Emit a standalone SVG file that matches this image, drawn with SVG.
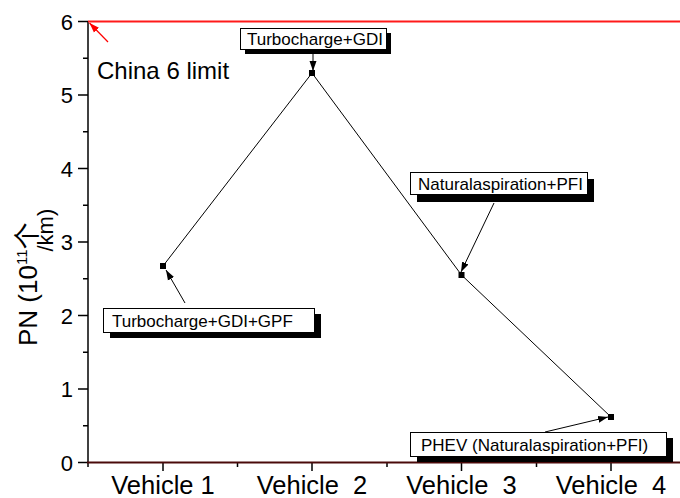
<svg xmlns="http://www.w3.org/2000/svg" width="680" height="498" viewBox="0 0 680 498">
<defs>
<marker id="ah" viewBox="0 0 10 10" refX="10" refY="5" markerWidth="10" markerHeight="10" markerUnits="userSpaceOnUse" orient="auto"><path d="M0,1.5 L10,5 L0,8.5 Z" fill="#000"/></marker>
<marker id="ahr" viewBox="0 0 10 10" refX="10" refY="5" markerWidth="10" markerHeight="10" markerUnits="userSpaceOnUse" orient="auto"><path d="M0,1.5 L10,5 L0,8.5 Z" fill="#ff0000"/></marker>
</defs>
<style>
text{font-family:"Liberation Sans",Arial,sans-serif;fill:#000}
.tick{font-size:22px;text-anchor:end}
.xl{font-size:25.5px;text-anchor:middle}
.bl{font-size:17px}
.box{fill:#fff;stroke:#000;stroke-width:1}
.sh{fill:#000}
.ax{stroke:#000;stroke-width:1.5;fill:none}
.ann{stroke:#000;stroke-width:1;fill:none;marker-end:url(#ah)}
.pt{fill:#000}
</style>
<rect width="680" height="498" fill="#fff"/>
<g id="axes">
<line class="ax" x1="88" y1="21" x2="88" y2="463"/>
<path class="ax" d="M78,21.5H88M78,95H88M78,168.5H88M78,242H88M78,315.5H88M78,389H88M78,462.5H88"/>
<path class="ax" d="M83,58.25H88M83,131.75H88M83,205.25H88M83,278.75H88M83,352.25H88M83,425.75H88"/>
<path class="ax" d="M88,462.5V467M237.5,462.5V467M387,462.5V467M536.5,462.5V467M163,462.5V471M312,462.5V471M461.5,462.5V471M611,462.5V471"/>
<line x1="87" y1="462.5" x2="680" y2="462.5" stroke="#4a0a0a" stroke-width="2"/>
<text class="tick" x="73" y="29.5">6</text>
<text class="tick" x="73" y="103">5</text>
<text class="tick" x="73" y="176.5">4</text>
<text class="tick" x="73" y="250">3</text>
<text class="tick" x="73" y="323.5">2</text>
<text class="tick" x="73" y="397">1</text>
<text class="tick" x="73" y="470.5">0</text>
<text class="xl" x="163" y="494">Vehicle 1</text>
<text class="xl" x="312" y="494" xml:space="preserve">Vehicle  2</text>
<text class="xl" x="461.5" y="494" xml:space="preserve">Vehicle  3</text>
<text class="xl" x="611" y="494" xml:space="preserve">Vehicle  4</text>
<text transform="translate(37,346) rotate(-90)" style="font-size:26px"><tspan>PN (10</tspan><tspan style="font-size:15px" dy="-10">11</tspan><tspan style="font-family:'Noto Sans CJK SC',sans-serif;font-size:27px" dy="10">个</tspan><tspan style="font-size:22px" dx="-29" dy="16">/km)</tspan></text>
</g>
<g id="limit">
<line x1="88" y1="21.5" x2="680" y2="21.5" stroke="#ff1a1a" stroke-width="2"/>
<line x1="108" y1="42" x2="89.5" y2="23" stroke="#ff0000" stroke-width="1.2" marker-end="url(#ahr)"/>
<text x="97" y="79" style="font-size:24px">China 6 limit</text>
</g>
<g id="series">
<polyline points="163,266 312,73 461.5,275 611,417" fill="none" stroke="#000" stroke-width="1"/>
<rect class="pt" x="160" y="263" width="6" height="6"/>
<rect class="pt" x="309" y="70" width="6" height="6"/>
<rect class="pt" x="458.5" y="272" width="6" height="6"/>
<rect class="pt" x="608" y="414" width="6" height="6"/>
</g>
<g id="connectors">
<line class="ann" x1="313" y1="49" x2="313" y2="71"/>
<line class="ann" x1="185" y1="303" x2="166" y2="270"/>
<line class="ann" x1="494" y1="203" x2="461" y2="272"/>
<line class="ann" x1="545" y1="432" x2="608" y2="417"/>
</g>
<g id="box-turbo-gdi">
<rect class="sh" x="245" y="33" width="146" height="21"/>
<rect class="box" x="240.5" y="28.5" width="146" height="21"/>
<text class="bl" x="247" y="45">Turbocharge+GDI</text>
</g>
<g id="box-turbo-gdi-gpf">
<rect class="sh" x="110" y="314" width="211" height="24"/>
<rect class="box" x="103.5" y="308.5" width="211" height="24"/>
<text class="bl" x="112" y="327">Turbocharge+GDI+GPF</text>
</g>
<g id="box-na-pfi">
<rect class="sh" x="417" y="179" width="177" height="23"/>
<rect class="box" x="410.5" y="172.5" width="177" height="22"/>
<text class="bl" x="418" y="190">Naturalaspiration+PFI</text>
</g>
<g id="box-phev">
<rect class="sh" x="417" y="438" width="256" height="24"/>
<rect class="box" x="410.5" y="432.5" width="256" height="24"/>
<text class="bl" x="421" y="451">PHEV (Naturalaspiration+PFI)</text>
</g>
</svg>
